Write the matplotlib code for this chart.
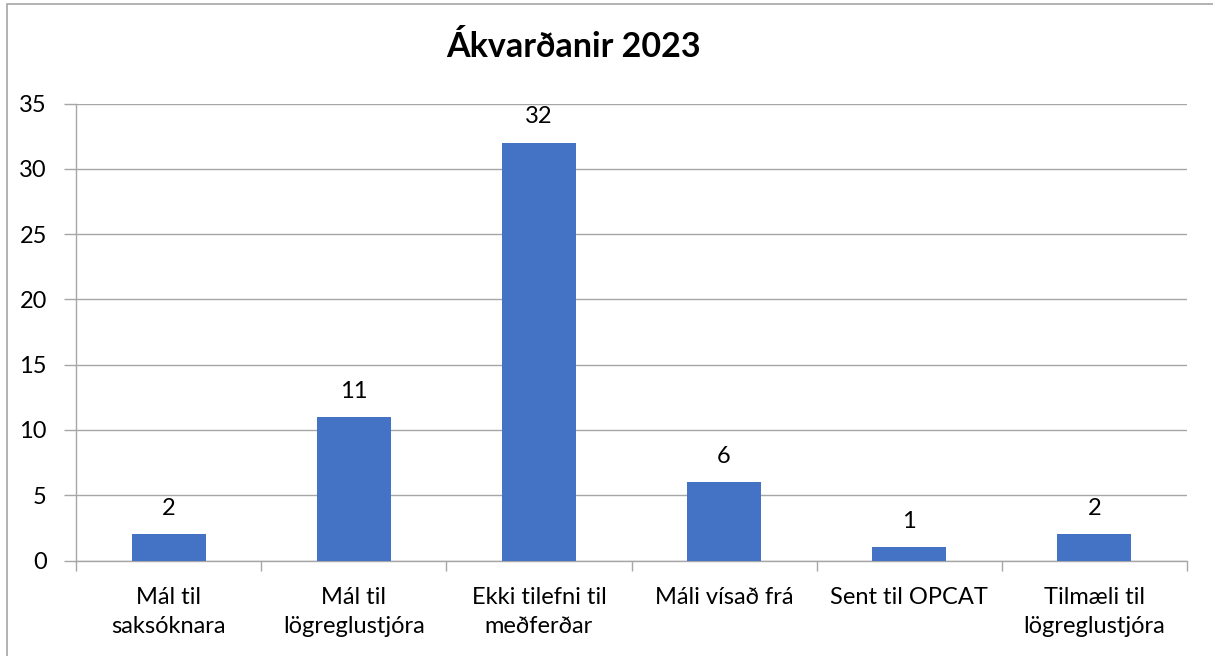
import matplotlib
matplotlib.use('Agg')
import matplotlib.pyplot as plt
from matplotlib.patches import Rectangle
import numpy as np

categories = ['Mál til\nsaksóknara', 'Mál til\nlögreglustjóra', 'Ekki tilefni til\nmeðferðar',
              'Máli vísað frá', 'Sent til OPCAT', 'Tilmæli til\nlögreglustjóra']
values = [2, 11, 32, 6, 1, 2]
y_ticks = [0, 5, 10, 15, 20, 25, 30, 35]
title = 'Ákvarðanir 2023'

bar_color = '#4472C4'
grid_color = '#A6A6A6'

plt.rcParams['font.family'] = ['Lato', 'DejaVu Sans']

W, H = 1213, 656
fig = plt.figure(figsize=(W / 100, H / 100), dpi=100)

# plot area in pixels
left, right, top, bottom = 76, 1187, 103.5, 560.5
ax = fig.add_axes([left / W, 1 - bottom / H, (right - left) / W, (bottom - top) / H])

x = np.arange(len(categories))
ax.bar(x, values, width=0.4, color=bar_color, zorder=3)

# data labels
for xi, v in zip(x, values):
    ax.annotate(str(v), (xi, v), xytext=(0, 11), textcoords='offset points',
                ha='center', va='bottom', fontsize=17, color='black')

ax.set_xlim(-0.5, len(categories) - 0.5)
ax.set_ylim(0, 35)
ax.set_yticks(y_ticks)
ax.set_yticklabels([str(t) for t in y_ticks], fontsize=17)
ax.set_xticks(x)
ax.set_xticklabels(categories, fontsize=17, linespacing=1.5)
ax.set_xticks(np.arange(len(categories) + 1) - 0.5, minor=True)

ax.tick_params(axis='x', which='major', length=0, pad=19)
ax.tick_params(axis='x', which='minor', length=7, color=grid_color, width=1)
ax.tick_params(axis='y', length=9, color=grid_color, width=1, pad=12)

ax.yaxis.grid(True, color=grid_color, linewidth=1, zorder=0)
for s in ['top', 'right']:
    ax.spines[s].set_visible(False)
for s in ['left', 'bottom']:
    ax.spines[s].set_color(grid_color)
    ax.spines[s].set_linewidth(1)

fig.text(574 / W, 1 - 47 / H, title, ha='center', va='center',
         fontsize=24.5, fontweight='bold')

# ramminn utan um myndina
fig.patches.append(Rectangle((7 / W, -0.1), 1.2, 1 - 4 / H + 0.1, transform=fig.transFigure,
                             fill=False, edgecolor='#A6A6A6', linewidth=1.2))

fig.savefig('out.png', dpi=100)
